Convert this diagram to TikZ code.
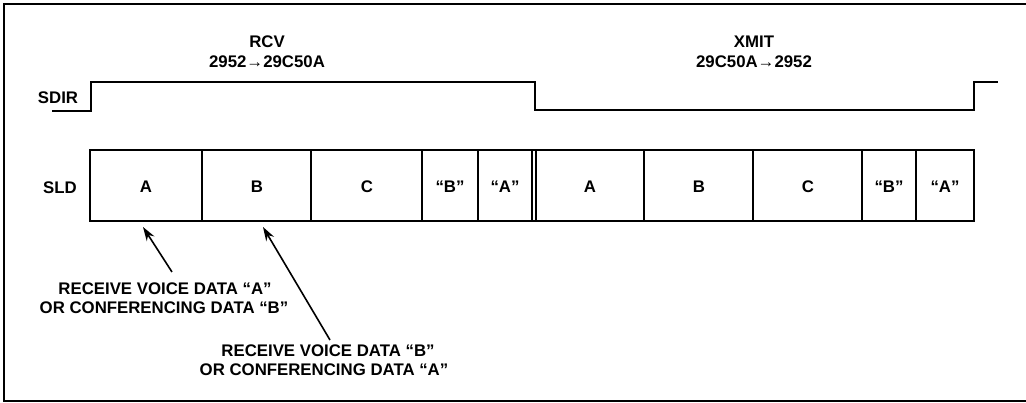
\documentclass[tikz,border=0pt]{standalone}
\usepackage{fontspec}
\setmainfont{Liberation Sans}
\usetikzlibrary{arrows.meta}
\tikzset{
  lbl/.style={font=\bfseries\fontsize{16.8}{19}\selectfont, inner sep=0pt, align=center},
  cell/.style={font=\bfseries\fontsize{16.8}{19}\selectfont, inner sep=0pt},
  wave/.style={line width=2pt, line join=miter},
  frame/.style={line width=1.8pt},
  arr/.style={line width=1.6pt, -{Stealth[length=14pt,width=9pt]}}
}
\begin{document}
\begin{tikzpicture}[x=1pt,y=-1pt]
\useasboundingbox (0,0) rectangle (1026,403);
% frame
\draw[frame] (1026,4) -- (4,4) -- (4,401) -- (1026,401);
% titles
\node[lbl] (rcv) at (267,42) {RCV};
\node[lbl] (rcvd) at (267,62) {2952→29C50A};
\node[lbl] (xmit) at (754,42) {XMIT};
\node[lbl] (xmitd) at (754,62) {29C50A→2952};
% SDIR
\node[lbl] (sdir) at (58,98) {SDIR};
\draw[wave] (52,111) -- (91,111) -- (91,82) -- (535,82) -- (535,110) -- (974,110) -- (974,82) -- (998,82);
% SLD
\node[lbl] (sld) at (60,188) {SLD};
\draw[wave] (90,150) rectangle (974,221);
\foreach \x in {202,311,422,478,532,536,644,753,862,916}
  \draw[line width=1.8pt] (\x,150) -- (\x,221);
\node[cell] (c1) at (146,187) {A};
\node[cell] (c2) at (257,187) {B};
\node[cell] (c3) at (367,187) {C};
\node[cell] (c4) at (450,187) {“B”};
\node[cell] (c5) at (505,187) {“A”};
\node[cell] (c6) at (590,187) {A};
\node[cell] (c7) at (699,187) {B};
\node[cell] (c8) at (808,187) {C};
\node[cell] (c9) at (889,187) {“B”};
\node[cell] (c10) at (945,187) {“A”};
% annotations
\node[lbl] (n1a) at (165,289) {RECEIVE VOICE DATA “A”};
\node[lbl] (n1b) at (164,308) {OR CONFERENCING DATA “B”};
\node[lbl] (n2a) at (328,351) {RECEIVE VOICE DATA “B”};
\node[lbl] (n2b) at (324,370) {OR CONFERENCING DATA “A”};
\coordinate (t1) at (172,272);
\coordinate (h1) at (143,227);
\coordinate (t2) at (330,340);
\coordinate (h2) at (263,227);
\draw[arr] (t1) -- (h1);
\draw[arr] (t2) -- (h2);
\end{tikzpicture}
\end{document}
